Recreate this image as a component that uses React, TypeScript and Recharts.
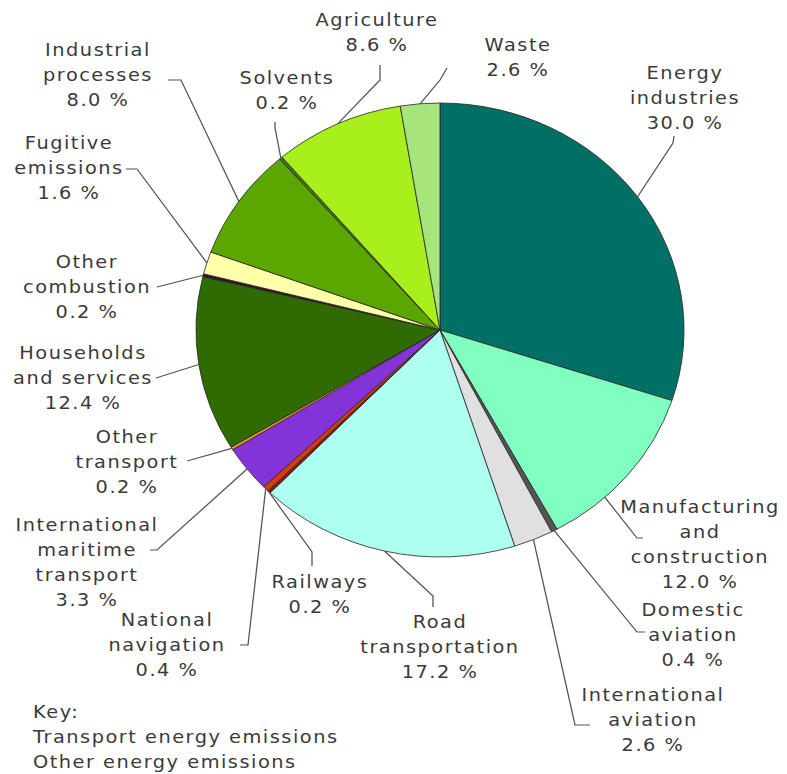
import { Cell, Pie, PieChart } from "recharts";

// Share of greenhouse gas emissions by sector (%)
const categories = [
  "Energy industries",
  "Manufacturing and construction",
  "Domestic aviation",
  "International aviation",
  "Road transportation",
  "Railways",
  "National navigation",
  "International maritime transport",
  "Other transport",
  "Households and services",
  "Other combustion",
  "Fugitive emissions",
  "Industrial processes",
  "Solvents",
  "Agriculture",
  "Waste",
];

const shares = [30.0, 12.0, 0.4, 2.6, 17.2, 0.2, 0.4, 3.3, 0.2, 12.4, 0.2, 1.6, 8.0, 0.2, 8.6, 2.6];

const labelLines = [
  ["Energy", "industries"],
  ["Manufacturing", "and", "construction"],
  ["Domestic", "aviation"],
  ["International", "aviation"],
  ["Road", "transportation"],
  ["Railways"],
  ["National", "navigation"],
  ["International", "maritime", "transport"],
  ["Other", "transport"],
  ["Households", "and services"],
  ["Other", "combustion"],
  ["Fugitive", "emissions"],
  ["Industrial", "processes"],
  ["Solvents"],
  ["Agriculture"],
  ["Waste"],
];

const keyLines = ["Key:", "Transport energy emissions", "Other energy emissions"];

const colors = [
  "#006f64",
  "#7fffc0",
  "#555555",
  "#e0e0e0",
  "#adfff0",
  "#8a1a0a",
  "#d83a10",
  "#8433d8",
  "#f0a020",
  "#2f6b00",
  "#3a1020",
  "#ffffaa",
  "#5ca600",
  "#3d7d00",
  "#a8ef1c",
  "#a6e47c",
];

// the source image is stretched horizontally
const SX = 1.075;
const W = 787 / SX;
const H = 774;

// label placement in image pixels: text centre x, first line centre y, leader bends
type Lay = { tx: number; ty: number; path: number[][]; at?: number };
const layout: Lay[] = [
  { tx: 685, ty: 73, path: [[673, 143], [674, 136]] },
  { tx: 700, ty: 507, path: [[637, 538], [643, 538]], at: 137.5 },
  { tx: 693, ty: 610, path: [[637, 632], [645, 632]] },
  { tx: 653, ty: 695, path: [[575, 725], [590, 725]] },
  { tx: 440, ty: 622, path: [[433, 596], [433, 607]] },
  { tx: 320, ty: 582, path: [[312, 552], [312, 566]] },
  { tx: 167, ty: 620, path: [[248, 645], [240, 645]] },
  { tx: 87, ty: 525, path: [[157, 550], [150, 550]] },
  { tx: 127, ty: 437, path: [[187, 461]] },
  { tx: 83, ty: 353, path: [[156, 378]] },
  { tx: 87, ty: 262, path: [[157, 287]] },
  { tx: 69, ty: 143, path: [[137, 169], [126, 169]] },
  { tx: 98, ty: 50, path: [[181, 80], [168, 80]] },
  { tx: 287, ty: 78, path: [[275, 128], [275, 122]] },
  { tx: 377, ty: 20, path: [[380, 80], [380, 65]] },
  { tx: 518, ty: 45, path: [[440, 80], [447, 68]] },
];

const data = categories.map((name, i) => ({ name, value: shares[i] }));

const font = "Verdana, 'DejaVu Sans', sans-serif";
const textColor = "#3a3a3a";

function renderLabel(props: any) {
  const { cx, cy, midAngle, outerRadius, index } = props;
  const lay = layout[index];
  const ang = lay.at != null ? 90 - lay.at : midAngle;
  const rad = (ang * Math.PI) / 180;
  const ex = cx + outerRadius * Math.cos(rad);
  const ey = cy - outerRadius * Math.sin(rad);
  const pts = [[ex, ey], ...lay.path.map(([x, y]) => [x / SX, y])];
  const lines = [...labelLines[index], `${shares[index].toFixed(1)} %`];
  const x = lay.tx / SX;
  return (
    <g key={`lbl-${index}`}>
      <polyline
        points={pts.map((p) => p.join(",")).join(" ")}
        fill="none"
        stroke="#555"
        strokeWidth={1.2}
      />
      <text
        x={x}
        y={lay.ty + 6}
        textAnchor="middle"
        fill={textColor}
        fontSize={18}
        fontFamily={font}
        letterSpacing={1.4}
      >
        {lines.map((l, k) => (
          <tspan key={k} x={x} dy={k === 0 ? 0 : 25}>
            {l}
          </tspan>
        ))}
      </text>
    </g>
  );
}

export default function App() {
  return (
    <div
      style={{
        position: "absolute",
        left: 0,
        top: 0,
        width: W,
        height: H,
        background: "#fff",
        transform: `scaleX(${SX})`,
        transformOrigin: "0 0",
      }}
    >
      <PieChart width={W} height={H} margin={{ top: 0, right: 0, bottom: 0, left: 0 }}>
        <Pie
          data={data}
          dataKey="value"
          nameKey="name"
          cx={440 / SX}
          cy={330}
          outerRadius={227}
          startAngle={90}
          endAngle={-270}
          stroke="#2a2a2a"
          strokeWidth={0.8}
          label={renderLabel}
          labelLine={false}
          isAnimationActive={false}
        >
          {data.map((d, i) => (
            <Cell key={d.name} fill={colors[i]} />
          ))}
        </Pie>
      </PieChart>
      <div
        style={{
          position: "absolute",
          left: 33 / SX,
          top: 699,
          fontFamily: font,
          fontSize: 18,
          letterSpacing: 1.4,
          lineHeight: "25px",
          color: textColor,
        }}
      >
        {keyLines.map((l) => (
          <div key={l}>{l}</div>
        ))}
      </div>
    </div>
  );
}
